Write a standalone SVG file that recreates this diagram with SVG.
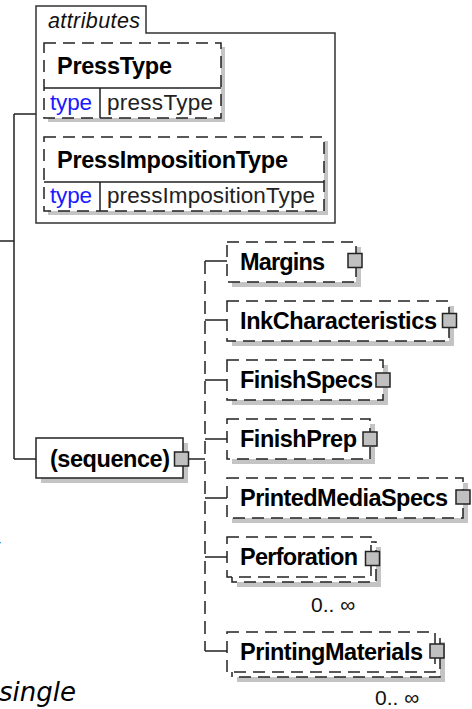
<svg xmlns="http://www.w3.org/2000/svg" width="472" height="709" viewBox="0 0 472 709">
<style>
.sh{fill:#c4c4c4}
.bx{fill:#fff;stroke:#222;stroke-width:1.5;stroke-dasharray:12 7}
.sb{fill:#fff;stroke:#222;stroke-width:1.5}
.ln{stroke:#222;stroke-width:1.5;fill:none}
.dl{stroke:#222;stroke-width:1.5;fill:none;stroke-dasharray:13 7}
.sq{fill:#c0c0c0;stroke:#222;stroke-width:1.5}
.nm{font-family:"Liberation Sans",Arial,sans-serif;font-weight:bold;font-size:23.5px;fill:#000}
.ty{font-family:"Liberation Sans",Arial,sans-serif;font-size:22.5px;fill:#1a1aff}
.tv{font-family:"Liberation Sans",Arial,sans-serif;font-size:22.5px;fill:#222}
.oc{font-family:"Liberation Sans",Arial,sans-serif;font-size:21px;fill:#111}
.it{font-family:"Liberation Sans",Arial,sans-serif;font-style:italic;font-size:21.5px;fill:#111}
.desc{font-family:"DejaVu Sans",Verdana,sans-serif;font-style:italic;font-size:26px;fill:#000}
</style>

<g id="connectors">
  <path class="ln" d="M0,241 H14 M14,114 V459 M14,114 H36 M14,459 H36"/>
  <path class="ln" d="M189,459 H205"/>
  <path class="dl" d="M205,261 V651"/>
  <path class="ln" d="M205,261 H227 M205,320 H227 M205,380 H227 M205,439 H227 M205,498 H227 M205,557 H227 M205,651 H227"/>
</g>

<g id="attributes">
  <path d="M36,223 V6 H146 V33 H335 V223 Z" fill="#fff" stroke="#333" stroke-width="1.5"/>
  <text class="it" x="48" y="28" textLength="92" lengthAdjust="spacing">attributes</text>
</g>

<g id="PressType">
  <rect class="sh" x="48" y="47" width="177" height="75"/>
  <rect class="bx" x="44" y="43" width="177" height="75"/>
  <path class="ln" d="M44,88 H221 M100,88 V118"/>
  <text class="nm" x="57" y="74" textLength="115" lengthAdjust="spacing">PressType</text>
  <text class="ty" x="50" y="110" textLength="42" lengthAdjust="spacing">type</text>
  <text class="tv" x="107" y="110" textLength="106" lengthAdjust="spacing">pressType</text>
</g>

<g id="PressImpositionType">
  <rect class="sh" x="48" y="141" width="280" height="74"/>
  <rect class="bx" x="44" y="137" width="280" height="74"/>
  <path class="ln" d="M44,182 H324 M100,182 V211"/>
  <text class="nm" x="57" y="168" textLength="231" lengthAdjust="spacing">PressImpositionType</text>
  <text class="ty" x="50" y="203" textLength="42" lengthAdjust="spacing">type</text>
  <text class="tv" x="107" y="203" textLength="208" lengthAdjust="spacing">pressImpositionType</text>
</g>

<g id="sequence">
  <rect class="sh" x="41" y="443" width="147" height="40"/>
  <rect class="sb" x="36" y="438" width="147" height="40"/>
  <text class="nm" x="50" y="467" textLength="120" lengthAdjust="spacing">(sequence)</text>
  <rect class="sq" x="174.5" y="452" width="14" height="14"/>
</g>

<g id="Margins">
  <rect class="sh" x="232" y="247" width="129" height="40"/>
  <rect class="bx" x="227" y="242" width="129" height="40"/>
  <text class="nm" x="240" y="270" textLength="85" lengthAdjust="spacing">Margins</text>
  <rect class="sq" x="348" y="253.5" width="14" height="14"/>
</g>

<g id="InkCharacteristics">
  <rect class="sh" x="232" y="306" width="222" height="40"/>
  <rect class="bx" x="227" y="301" width="222" height="40"/>
  <text class="nm" x="240" y="329" textLength="197" lengthAdjust="spacing">InkCharacteristics</text>
  <rect class="sq" x="442.5" y="313.5" width="14" height="14"/>
</g>

<g id="FinishSpecs">
  <rect class="sh" x="232" y="365" width="156" height="40"/>
  <rect class="bx" x="227" y="360" width="156" height="40"/>
  <text class="nm" x="240" y="388" textLength="133" lengthAdjust="spacing">FinishSpecs</text>
  <rect class="sq" x="376" y="373" width="14" height="14"/>
</g>

<g id="FinishPrep">
  <rect class="sh" x="232" y="424" width="143" height="40"/>
  <rect class="bx" x="227" y="419" width="143" height="40"/>
  <text class="nm" x="240" y="447" textLength="117" lengthAdjust="spacing">FinishPrep</text>
  <rect class="sq" x="363" y="432" width="14" height="14"/>
</g>

<g id="PrintedMediaSpecs">
  <rect class="sh" x="232" y="483" width="236" height="40"/>
  <rect class="bx" x="227" y="478" width="236" height="40"/>
  <text class="nm" x="240" y="506" textLength="208" lengthAdjust="spacing">PrintedMediaSpecs</text>
  <rect class="sq" x="456" y="490" width="14" height="14"/>
</g>

<g id="Perforation">
  <rect class="sh" x="237" y="547" width="144" height="40"/>
  <rect class="bx" x="232" y="542" width="144" height="40"/>
  <rect class="bx" x="227" y="537" width="144" height="40"/>
  <text class="nm" x="240" y="565" textLength="118" lengthAdjust="spacing">Perforation</text>
  <rect class="sq" x="365.5" y="551.5" width="14" height="14"/>
  <text class="oc" x="311" y="612">0.. ∞</text>
</g>

<g id="PrintingMaterials">
  <rect class="sh" x="237" y="642" width="208" height="40"/>
  <rect class="bx" x="232" y="637" width="208" height="40"/>
  <rect class="bx" x="227" y="632" width="208" height="40"/>
  <text class="nm" x="240" y="660" textLength="183" lengthAdjust="spacing">PrintingMaterials</text>
  <rect class="sq" x="430" y="644" width="14" height="14"/>
  <text class="oc" x="375" y="705">0.. ∞</text>
</g>

<g id="description">
  <text class="desc" x="-15" y="557">y</text>
  <text class="desc" x="-1" y="701">single</text>
</g>
</svg>
